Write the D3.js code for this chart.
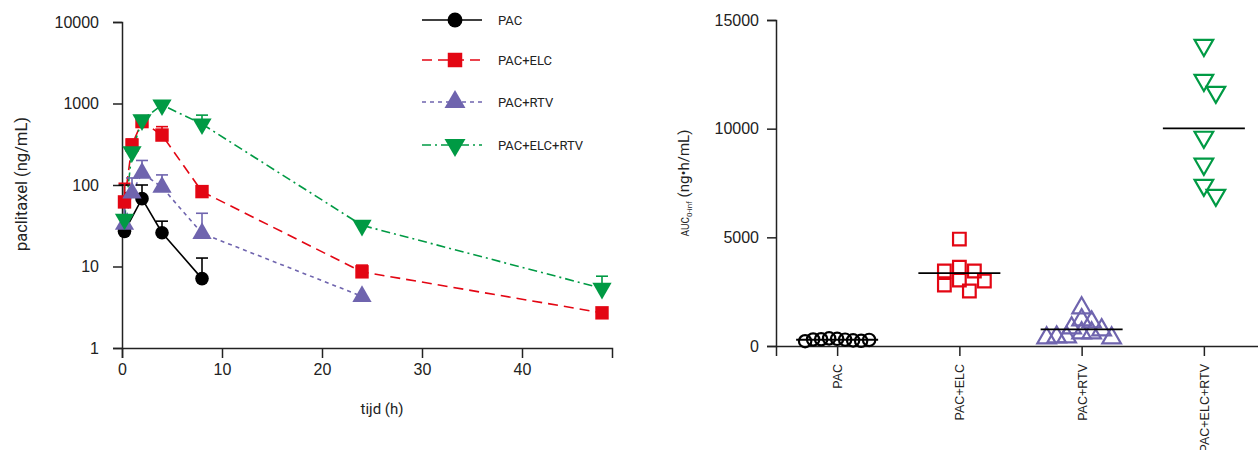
<!DOCTYPE html>
<html>
<head>
<meta charset="utf-8">
<script src="https://cdn.jsdelivr.net/npm/d3@7"></script>
<style>
  body { margin: 0; background: #fff; }
  svg { font-family: Roboto, "Liberation Sans", sans-serif; }
</style>
</head>
<body>
<script>
// ---- data: plasma concentration vs time ----
var times = [0.25, 1, 2, 4, 8, 24, 48];
var groups = ["PAC", "PAC+ELC", "PAC+RTV", "PAC+ELC+RTV"];

var pacMean = [27, null, 68, 26, 7.1, null, null];
var pacSD   = [73, null, 32, 10, 5.6, null, null];
var elcMean = [62, 310, 600, 410, 83, 8.6, 2.7];
var elcSD   = [43, 55, 0, 110, 0, 1.8, 0];
var rtvMean = [33, 80, 140, 94, 25.5, 4.3, null];
var rtvSD   = [27, 42, 60, 39, 19.5, 0, null];
var bothMean = [38, 256, 630, 960, 560, 32, 5.4];
var bothSD   = [0, 40, 0, 0, 160, 0, 2.2];

var xTicks = [0, 10, 20, 30, 40];
var yTicks = [1, 10, 100, 1000, 10000];

// ---- data: AUC per animal ----
var aucPAC  = [330, 290, 350, 260, 310, 240, 300, 280, 220];
var aucELC  = [4920, 3630, 3450, 3450, 3030, 2990, 2800, 2530];
var aucRTV  = [1750, 1200, 1100, 830, 740, 600, 600, 410, 410, 370, 370];
var aucBoth = [13840, 12230, 11680, 9610, 8370, 7400, 6940];
var aucTicks = [0, 5000, 10000, 15000];

var colors = ["#000000", "#e30613", "#6f64ae", "#009a44"];
var dashes = [null, "10,6", "4,4", "9,4,2,4"];
var shapes = [d3.symbolCircle, d3.symbolSquare, d3.symbolTriangle, d3.symbolTriangle];
var flips  = [0, 0, 0, 180];

var series = [
  {name: groups[0], mean: pacMean, sd: pacSD},
  {name: groups[1], mean: elcMean, sd: elcSD},
  {name: groups[2], mean: rtvMean, sd: rtvSD},
  {name: groups[3], mean: bothMean, sd: bothSD}
];
series.forEach(function(s, i) {
  s.color = colors[i]; s.dash = dashes[i]; s.shape = shapes[i]; s.flip = flips[i];
  s.points = times.map(function(t, j) { return {t: t, v: s.mean[j], sd: s.sd[j]}; })
    .filter(function(p) { return p.v != null; });
});

var svg = d3.select("body").append("svg")
  .attr("width", 1258).attr("height", 450);

var axisColor = "#222";
function styleAxis(g) {
  g.selectAll(".domain").attr("stroke", axisColor).attr("stroke-width", 1.5);
  g.selectAll(".tick line").attr("stroke", axisColor).attr("stroke-width", 1.5);
  g.selectAll(".tick text").attr("fill", "#222").style("font-size", "16px");
}

// ================= left chart =================
var m1 = {left: 122, top: 22};
var w1 = 490, h1 = 326;
var chart = svg.append("g").attr("transform", "translate(" + m1.left + "," + m1.top + ")");

var x = d3.scaleLinear().domain([0, 49]).range([0, w1]);
var y = d3.scaleLog().domain([1, 10000]).range([h1, 0]);

chart.append("g").attr("transform", "translate(0," + h1 + ")")
  .call(d3.axisBottom(x).tickValues(xTicks).tickSizeOuter(0).tickSize(10).tickPadding(6))
  .call(styleAxis);
chart.append("g")
  .call(d3.axisLeft(y).tickValues(yTicks).tickFormat(d3.format("d")).tickSizeOuter(0).tickSize(9).tickPadding(14))
  .call(styleAxis);

chart.append("text")
  .attr("x", x(26)).attr("y", h1 + 66)
  .attr("text-anchor", "middle").style("font-size", "15px").attr("fill", "#222")
  .text("tijd (h)");
svg.append("text")
  .attr("transform", "translate(27," + (m1.top + h1 / 2 - 1) + ") rotate(-90)")
  .attr("text-anchor", "middle").style("font-size", "16.5px").attr("fill", "#222")
  .text("paclitaxel (ng/mL)");

var line = d3.line().x(function(d) { return x(d.t); }).y(function(d) { return y(d.v); });

series.forEach(function(s) {
  chart.append("path").datum(s.points)
    .attr("fill", "none").attr("stroke", s.color).attr("stroke-width", 1.6)
    .attr("stroke-dasharray", s.dash).attr("d", line);
});

series.forEach(function(s) {
  var eb = chart.append("g").attr("stroke", s.color).attr("stroke-width", 1.6);
  s.points.filter(function(p) { return p.sd > 0; }).forEach(function(p) {
    var top = y(p.v + p.sd);
    eb.append("line").attr("x1", x(p.t)).attr("x2", x(p.t)).attr("y1", y(p.v)).attr("y2", top);
    eb.append("line").attr("x1", x(p.t) - 6).attr("x2", x(p.t) + 6).attr("y1", top).attr("y2", top);
  });
});

var markerSize = [145, 180, 160, 160];
series.forEach(function(s, i) {
  chart.selectAll(null).data(s.points).enter().append("path")
    .attr("d", d3.symbol().type(s.shape).size(markerSize[i]))
    .attr("fill", s.color)
    .attr("transform", function(d) {
      return "translate(" + x(d.t) + "," + y(d.v) + ") rotate(" + s.flip + ")";
    });
});

// legend
var legendRows = [20, 60, 102, 145];
series.forEach(function(s, i) {
  var lg = svg.append("g").attr("transform", "translate(422," + legendRows[i] + ")");
  lg.append("line").attr("x1", 0).attr("x2", 60).attr("stroke", s.color)
    .attr("stroke-width", 1.6).attr("stroke-dasharray", s.dash);
  lg.append("path").attr("d", d3.symbol().type(s.shape).size(markerSize[i] + 30))
    .attr("fill", s.color).attr("transform", "translate(33,0) rotate(" + s.flip + ")");
  lg.append("text").attr("x", 76).attr("y", 4.5).style("font-size", "13px").attr("fill", "#222")
    .text(s.name);
});

// ================= right chart =================
var m2 = {left: 776, top: 20};
var h2 = 326;
var chart2 = svg.append("g").attr("transform", "translate(" + m2.left + "," + m2.top + ")");

var xc = d3.scalePoint().domain(groups).range([0, 489]).padding(0.5);
var ya = d3.scaleLinear().domain([0, 15000]).range([h2, 0]);

chart2.append("g").attr("transform", "translate(0," + h2 + ")")
  .call(d3.axisBottom(xc).tickSizeOuter(0).tickSize(10).tickPadding(6))
  .call(styleAxis)
  .selectAll(".tick text")
  .style("font-size", "12.5px")
  .attr("text-anchor", "end")
  .attr("transform", "rotate(-90)")
  .attr("x", -18).attr("y", 0).attr("dy", "0.35em");
chart2.append("g")
  .call(d3.axisLeft(ya).tickValues(aucTicks).tickFormat(d3.format("d")).tickSizeOuter(0).tickSize(9).tickPadding(8))
  .call(styleAxis);

var ylab = svg.append("text")
  .attr("transform", "translate(689,183) rotate(-90)")
  .attr("text-anchor", "middle").attr("fill", "#222");
ylab.append("tspan").style("font-size", "10px").text("AUC");
ylab.append("tspan").style("font-size", "8px").attr("dy", 3).text("0-inf");
ylab.append("tspan").style("font-size", "15px").attr("dy", -3).text(" (ng\u2022h/mL)");

// simple dodge so overlapping points spread sideways
function dodge(values, step, minDist) {
  var placed = [];
  return values.map(function(v) {
    var py = ya(v);
    for (var k = 0; k < 40; k++) {
      var off = (k % 2 === 1 ? 1 : -1) * Math.ceil(k / 2) * step;
      var ok = placed.every(function(p) {
        return Math.hypot(p.dx - off, p.py - py) >= minDist;
      });
      if (ok) { placed.push({dx: off, py: py}); return {v: v, dx: off}; }
    }
    return {v: v, dx: 0};
  });
}

var aucSets = [aucPAC, aucELC, aucRTV, aucBoth];
var openSize = [120, 160, 150, 150];
var dodgeStep = [4, 5, 5, 6];
var dodgeDist = [8, 13, 10, 14];
aucSets.forEach(function(vals, i) {
  var cx = xc(groups[i]);
  var pts = dodge(vals, dodgeStep[i], dodgeDist[i]);
  chart2.selectAll(null).data(pts).enter().append("path")
    .attr("d", d3.symbol().type(shapes[i]).size(openSize[i]))
    .attr("fill", "none").attr("stroke", colors[i]).attr("stroke-width", 2.2)
    .attr("transform", function(d) {
      return "translate(" + (cx + d.dx) + "," + ya(d.v) + ") rotate(" + flips[i] + ")";
    });
  var mean = d3.mean(vals);
  chart2.append("line")
    .attr("x1", cx - 41).attr("x2", cx + 41)
    .attr("y1", ya(mean)).attr("y2", ya(mean))
    .attr("stroke", "#000").attr("stroke-width", 1.8);
});
</script>
</body>
</html>
